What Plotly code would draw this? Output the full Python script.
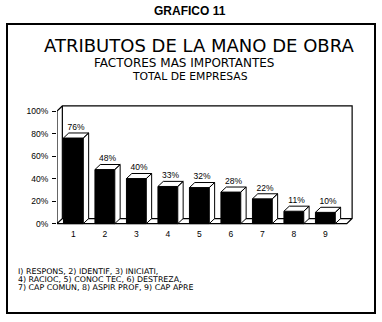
import plotly.graph_objects as go

categories = [1, 2, 3, 4, 5, 6, 7, 8, 9]
values = [76, 48, 40, 33, 32, 28, 22, 11, 10]
value_labels = ["76%", "48%", "40%", "33%", "32%", "28%", "22%", "11%", "10%"]
ytick_vals = [0, 20, 40, 60, 80, 100]
ytick_text = ["0%", "20%", "40%", "60%", "80%", "100%"]
footer_lines = [
    "I) RESPONS, 2) IDENTIF, 3) INICIATI,",
    "4) RACIOC, 5) CONOC TEC, 6) DESTREZA,",
    "7) CAP COMUN, 8) ASPIR PROF, 9) CAP APRE",
]

W = 0.63      # bar width (category units)
DX = 0.17     # depth offset x
DY = 4.5      # depth offset y
XL = 0.48     # left wall
XR = 9.68     # right floor edge (front)
FONT = "Liberation Sans, Arial, sans-serif"
WIDE = "DejaVu Sans, Liberation Sans, sans-serif"

fig = go.Figure()

# Walls / floor (3D frame)
wx, wy = [], []
def seg(pts):
    for p in pts:
        wx.append(p[0]); wy.append(p[1])
    wx.append(None); wy.append(None)

seg([(XL, 0), (XR, 0), (XR + DX, DY), (XR + DX, 100 + DY), (XL + DX, 100 + DY), (XL, 100), (XL, 0), (XL + DX, DY), (XR + DX, DY)])
seg([(XL + DX, DY), (XL + DX, 100 + DY)])
fig.add_trace(go.Scatter(x=wx, y=wy, mode="lines", line=dict(color="black", width=1.2),
                         hoverinfo="skip", showlegend=False))

# Front faces
fig.add_trace(go.Bar(x=categories, y=values, width=W, marker=dict(color="black", line=dict(color="black", width=1)),
                     showlegend=False))

# Top and side faces
px_, py_ = [], []
for c, v in zip(categories, values):
    l, r = c - W / 2, c + W / 2
    top = [(l, v), (r, v), (r + DX, v + DY), (l + DX, v + DY), (l, v)]
    side = [(r, 0), (r + DX, DY), (r + DX, v + DY), (r, v), (r, 0)]
    for poly in (top, side):
        for p in poly:
            px_.append(p[0]); py_.append(p[1])
        px_.append(None); py_.append(None)
fig.add_trace(go.Scatter(x=px_, y=py_, mode="lines", fill="toself", fillcolor="white",
                         line=dict(color="black", width=1), hoverinfo="skip", showlegend=False))

# Value labels
fig.add_trace(go.Scatter(x=[c + DX / 2 for c in categories], y=[v + DY + 1 for v in values],
                         mode="text", text=value_labels, textposition="top center",
                         textfont=dict(family=FONT, size=8.5, color="black"),
                         hoverinfo="skip", showlegend=False))

fig.update_layout(
    width=382, height=322,
    margin=dict(l=57, r=22, t=102, b=95),
    paper_bgcolor="white", plot_bgcolor="white",
    font=dict(family=FONT, color="black"),
    xaxis=dict(range=[0.48, 10.1], tickvals=categories, ticktext=[str(c) for c in categories],
               showgrid=False, zeroline=False, showline=False, ticks="",
               tickfont=dict(size=8.5, family=FONT), fixedrange=True),
    yaxis=dict(range=[-3, 108], tickvals=ytick_vals, ticktext=ytick_text,
               showgrid=False, zeroline=False, showline=False, ticks="outside", ticklen=4,
               tickcolor="black", tickwidth=1, ticklabelstandoff=2,
               tickfont=dict(size=8.5, family=FONT), fixedrange=True),
    bargap=0.37,
)

def px2x(px):
    return (px - 57) / 303
def py2y(py):
    return 1 - (py - 102) / 125

fig.add_shape(type="rect", xref="paper", yref="paper",
              x0=px2x(7), x1=px2x(375), y0=py2y(313), y1=py2y(24),
              line=dict(color="black", width=2), layer="below")

anns = [
    ("<b>GRAFICO 11</b>", 190, 11, 12, FONT),
    ("ATRIBUTOS DE LA MANO DE OBRA", 199, 45.5, 18, WIDE),
    ("FACTORES MAS IMPORTANTES", 184, 63, 12, WIDE),
    ("TOTAL DE EMPRESAS", 190, 76, 10.8, WIDE),
]
for t, x, y, s, f in anns:
    fig.add_annotation(text=t, xref="paper", yref="paper", x=px2x(x), y=py2y(y),
                       xanchor="center", yanchor="middle", showarrow=False,
                       font=dict(family=f, size=s, color="black"))
for i, line in enumerate(footer_lines):
    fig.add_annotation(text=line, xref="paper", yref="paper", x=px2x(16), y=py2y(271 + 8 * i),
                       xanchor="left", yanchor="middle", showarrow=False,
                       font=dict(family=WIDE, size=7.9, color="black"))

fig.write_html("out.html")
